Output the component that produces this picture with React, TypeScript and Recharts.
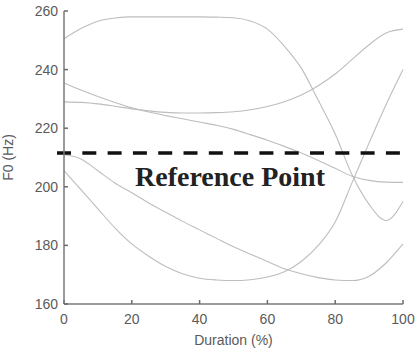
import React from 'react';
import { LineChart, Line, XAxis, YAxis, ReferenceLine } from 'recharts';

const durations = [0, 5, 10, 15, 20, 25, 30, 35, 40, 45, 50, 55, 60, 65, 70, 75, 80, 85, 90, 95, 100];
const curveTopArc = [250.5, 254, 256.5, 257.6, 258, 258, 258, 258, 258, 257.9, 257.7, 256.6, 253.8, 248, 240.5, 229.5, 218, 204, 194, 188.5, 195];
const curveRising = [229, 228.8, 228.3, 227.5, 226.6, 225.9, 225.4, 225.2, 225.2, 225.3, 225.6, 226.3, 227.4, 229, 231.3, 234.5, 238.5, 243.5, 248.5, 252.5, 253.8];
const curveFalling = [235.4, 233, 230.8, 228.8, 227, 225.5, 224.3, 223.2, 222.1, 221, 219.6, 217.8, 215.9, 213.8, 211.5, 209, 206.3, 203.6, 202.2, 201.6, 201.5];
const curveLateMin = [211, 209.5, 205.5, 201.3, 198, 194.5, 191.3, 188.2, 185.3, 182.4, 179.5, 177, 174.5, 172, 170.3, 169, 168.2, 168, 169.5, 174, 180.5];
const curveEarlyMin = [205.5, 199, 192.5, 186, 180.5, 176.3, 172.8, 170.3, 168.8, 168.2, 168, 168.3, 169.2, 171, 174.5, 180, 188, 201.5, 215, 228, 240];

const xTicks = [0, 20, 40, 60, 80, 100];
const yTicks = [160, 180, 200, 220, 240, 260];
const referenceValue = 211.5;
const referenceLabel = 'Reference Point';

const data = durations.map((d, i) => ({
  d,
  a: curveTopArc[i],
  b: curveRising[i],
  c: curveFalling[i],
  e: curveLateMin[i],
  f: curveEarlyMin[i],
}));

const axisColor = '#7a7a7a';
const tickLineStyle = { stroke: '#6a6a6a', strokeWidth: 1.5 };
const tickFont = { fontFamily: 'Liberation Sans, Arial, sans-serif', fontSize: 14, fill: '#5a5a5a' };
const lineColor = '#bdbdbd';

const RefLabel = (props: any) => {
  const vb = props.viewBox || {};
  return (
    <text
      x={230}
      y={(vb.y ?? 153) + 33}
      textAnchor="middle"
      fontFamily="Liberation Serif, Times New Roman, serif"
      fontWeight="bold"
      fontSize={28}
      fill="#222"
    >
      {referenceLabel}
    </text>
  );
};

const EmptyTick = () => <g />;

export default function App() {
  return (
    <div style={{ position: 'absolute', left: 0, top: 0, background: '#fff' }}>
      <LineChart width={416} height={353} data={data} margin={{ top: 11, right: 13, bottom: 0, left: 0 }}>
        <XAxis
          dataKey="d"
          type="number"
          domain={[0, 100]}
          ticks={xTicks}
          height={49}
          stroke={axisColor}
          strokeWidth={1.5}
          tickSize={-4}
          tickLine={tickLineStyle}
          tickMargin={14}
          tick={tickFont}
          label={{ value: 'Duration (%)', position: 'insideBottom', offset: 8, style: { ...tickFont } }}
        />
        <XAxis
          xAxisId="top"
          orientation="top"
          dataKey="d"
          type="number"
          domain={[0, 100]}
          ticks={xTicks}
          height={0}
          stroke={axisColor}
          strokeWidth={1.5}
          tickSize={-4}
          tickLine={tickLineStyle}
          tick={EmptyTick}
        />
        <YAxis
          type="number"
          domain={[160, 260]}
          ticks={yTicks}
          width={64}
          stroke={axisColor}
          strokeWidth={1.5}
          tickSize={-4}
          tickLine={tickLineStyle}
          tickMargin={10}
          tick={tickFont}
          label={{ value: 'F0 (Hz)', angle: -90, position: 'insideLeft', offset: 8, style: { ...tickFont, textAnchor: 'middle' } }}
        />
        <YAxis
          yAxisId="right"
          orientation="right"
          type="number"
          domain={[160, 260]}
          ticks={yTicks}
          width={0}
          stroke={axisColor}
          strokeWidth={1.5}
          tickSize={-4}
          tickLine={tickLineStyle}
          tick={EmptyTick}
        />
        <Line type="monotone" dataKey="a" stroke={lineColor} strokeWidth={1.1} dot={false} isAnimationActive={false} />
        <Line type="monotone" dataKey="b" stroke={lineColor} strokeWidth={1.1} dot={false} isAnimationActive={false} />
        <Line type="monotone" dataKey="c" stroke={lineColor} strokeWidth={1.1} dot={false} isAnimationActive={false} />
        <Line type="monotone" dataKey="e" stroke={lineColor} strokeWidth={1.1} dot={false} isAnimationActive={false} />
        <Line type="monotone" dataKey="f" stroke={lineColor} strokeWidth={1.1} dot={false} isAnimationActive={false} />
        <ReferenceLine
          ifOverflow="visible"
          segment={[{ x: -2.06, y: referenceValue }, { x: 100.6, y: referenceValue }]}
          stroke="#111"
          strokeWidth={3.5}
          strokeDasharray="14 11.3"
          label={<RefLabel />}
        />
      </LineChart>
    </div>
  );
}
